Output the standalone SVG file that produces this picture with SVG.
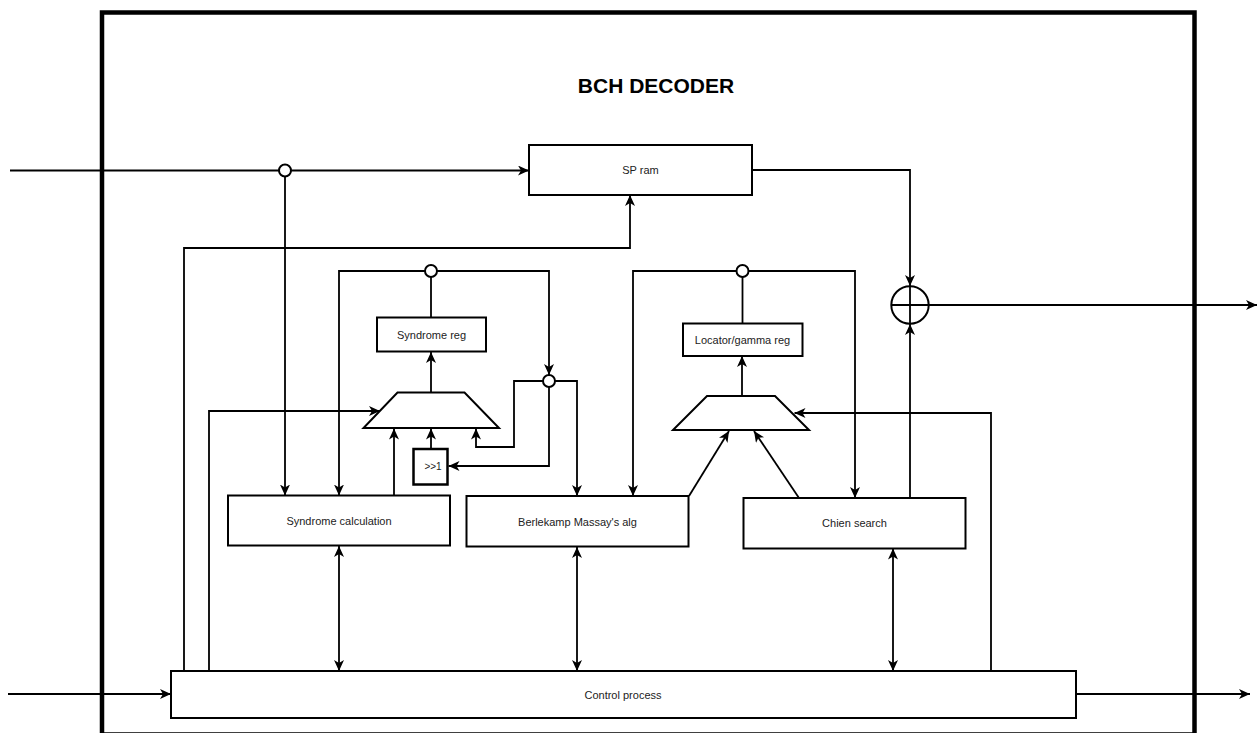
<svg xmlns="http://www.w3.org/2000/svg" width="1258" height="733" viewBox="0 0 1258 733">
<style>
.box{fill:#fff;stroke:#000;stroke-width:2}
.ln{fill:none;stroke:#000;stroke-width:1.8}
.arr{marker-end:url(#ah)}
.dbl{marker-start:url(#ahs);marker-end:url(#ah)}
.jn{fill:#fff;stroke:#000;stroke-width:2}
.t{font-family:"Liberation Sans",Arial,sans-serif;font-size:11px;fill:#222;text-anchor:middle;dominant-baseline:central}
</style>
<defs>
<marker id="ah" viewBox="0 0 11 10" refX="11" refY="5" markerWidth="11" markerHeight="10" markerUnits="userSpaceOnUse" orient="auto">
<path d="M0,0 L11,5 L0,10 L3,5 z" fill="#000"/>
</marker>
<marker id="ahs" viewBox="0 0 11 10" refX="11" refY="5" markerWidth="11" markerHeight="10" markerUnits="userSpaceOnUse" orient="auto-start-reverse">
<path d="M0,0 L11,5 L0,10 L3,5 z" fill="#000"/>
</marker>
</defs>
<rect width="1258" height="733" fill="#fff"/>
<rect id="frame" x="102" y="12.5" width="1092.5" height="722" fill="none" stroke="#000" stroke-width="4.5"/>
<text x="656" y="85" style="font-family:'Liberation Sans',Arial,sans-serif;font-size:21px;font-weight:bold;text-anchor:middle;dominant-baseline:central">BCH DECODER</text>

<g id="connectors">
<path class="ln arr" d="M10,170.5 H529"/>
<path class="ln arr" d="M285,176.5 V495.5"/>
<path class="ln arr" d="M752,170 H910 V286"/>
<path class="ln arr" d="M929,305 H1257"/>
<path class="ln arr" d="M910,498 V324"/>
<path class="ln arr" d="M184,671 V248 H630 V195"/>
<path class="ln arr" d="M209,674 V411 H380"/>
<path class="ln arr" d="M425,271 H339 V495.5"/>
<path class="ln arr" d="M437,271 H549 V375"/>
<path class="ln" d="M431,277 V317"/>
<path class="ln arr" d="M431,392.5 V352"/>
<path class="ln arr" d="M543,381 H514 V447 H476 V428.5"/>
<path class="ln arr" d="M555,381 H577 V496"/>
<path class="ln arr" d="M549,387 V466 H448.5"/>
<path class="ln arr" d="M431,449 V428.5"/>
<path class="ln arr" d="M394,495.5 V428.5"/>
<path class="ln arr" d="M736.5,271 H633 V496"/>
<path class="ln arr" d="M748.5,271 H855 V498"/>
<path class="ln" d="M742.5,277 V323"/>
<path class="ln arr" d="M742,396 V356"/>
<path class="ln arr" d="M991,671 V413 H794.5"/>
<path class="ln arr" d="M689,496 L729,431"/>
<path class="ln arr" d="M799,498 L754,431"/>
<path class="ln dbl" d="M339,546 V671"/>
<path class="ln dbl" d="M577,547 V671"/>
<path class="ln dbl" d="M893,548.5 V671"/>
<path class="ln arr" d="M8,694 H171"/>
<path class="ln arr" d="M1076,694 H1250"/>
<circle class="jn" cx="285" cy="170.5" r="6"/>
<circle class="jn" cx="431" cy="271" r="6"/>
<circle class="jn" cx="549" cy="381" r="6"/>
<circle class="jn" cx="742.5" cy="271" r="6"/>
</g>

<g id="sp_ram">
<rect class="box" x="529" y="145" width="223" height="50"/>
<text class="t" x="640.5" y="170">SP ram</text>
</g>
<g id="xor">
<circle cx="910" cy="305" r="18.7" fill="#fff" stroke="#000" stroke-width="2"/>
<path class="ln" d="M891.3,305 H928.7 M910,286.3 V323.7"/>
</g>
<g id="syndrome_reg">
<rect class="box" x="377" y="317.5" width="109" height="34"/>
<text class="t" x="431.5" y="334.5">Syndrome reg</text>
</g>
<g id="syndrome_mux">
<path class="box" d="M397.5,392.5 H464.5 L499,428 H363.5 Z"/>
</g>
<g id="shift">
<rect x="413.5" y="449" width="34" height="35.5" fill="#fff" stroke="#000" stroke-width="2.5"/>
<text class="t" x="433" y="466.5" style="font-size:10px">&gt;&gt;1</text>
</g>
<g id="locator_reg">
<rect class="box" x="683" y="323.5" width="119.5" height="32.5"/>
<text class="t" x="742.5" y="339.5">Locator/gamma reg</text>
</g>
<g id="locator_mux">
<path class="box" d="M707,396 H775 L809,430 H673 Z"/>
</g>
<g id="syndrome_calc">
<rect class="box" x="228" y="495.5" width="222" height="50"/>
<text class="t" x="339" y="521">Syndrome calculation</text>
</g>
<g id="berlekamp">
<rect class="box" x="466.5" y="496" width="222" height="50.5"/>
<text class="t" x="577.5" y="521.5">Berlekamp Massay's alg</text>
</g>
<g id="chien">
<rect class="box" x="743.5" y="498" width="222" height="50.5"/>
<text class="t" x="854.5" y="523">Chien search</text>
</g>
<g id="control">
<rect class="box" x="171" y="671" width="905" height="47"/>
<text class="t" x="623" y="694.5">Control process</text>
</g>
</svg>
